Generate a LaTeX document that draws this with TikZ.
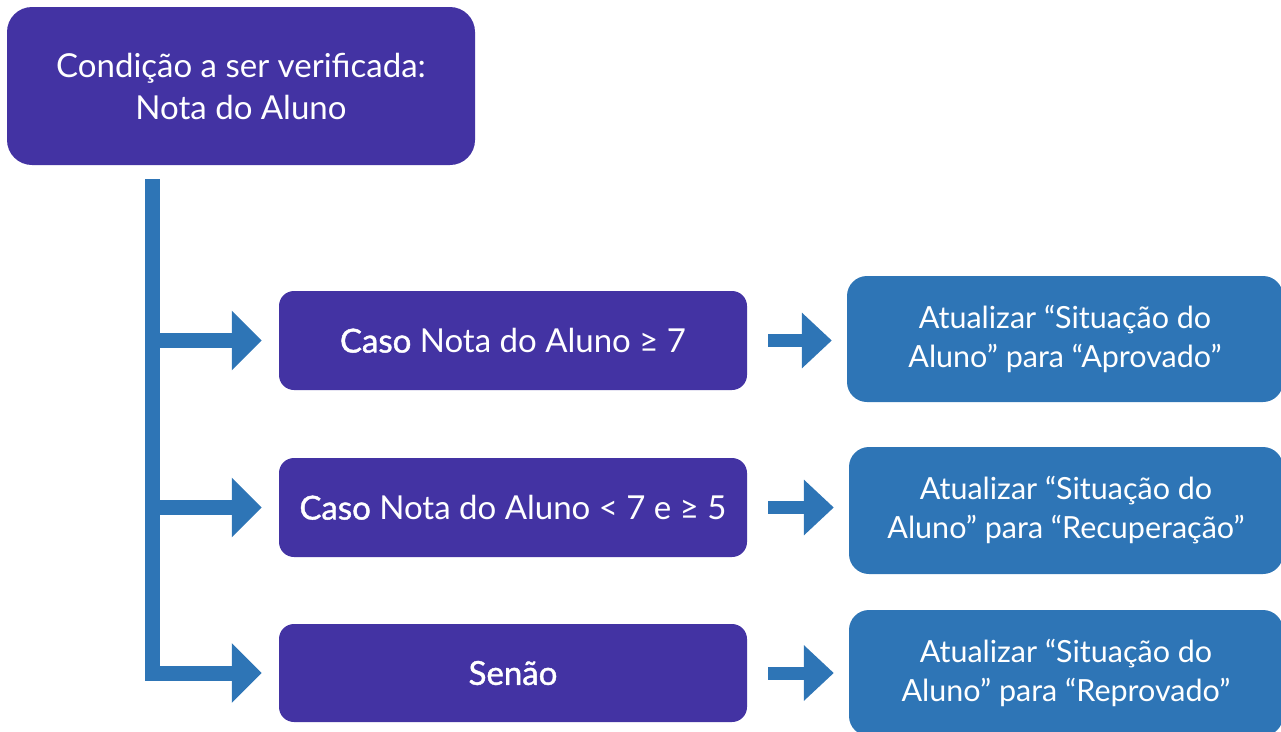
\documentclass[tikz,border=0pt]{standalone}
\usepackage{fontspec}
\setmainfont{Lato}
\newfontfamily\medfont{Lato}[FakeBold=1.3]
\usetikzlibrary{arrows.meta}
\definecolor{purp}{HTML}{4333A3}
\definecolor{blu}{HTML}{2E75B6}
\tikzset{
  pbox/.style={fill=purp, rounded corners=15pt, text=white, align=center, inner sep=0pt, font=\fontsize{33}{42}\selectfont},
  bbox/.style={fill=blu, rounded corners=20pt, text=white, align=center, inner sep=0pt, font=\fontsize{30.5}{39}\selectfont},
  conn/.style={draw=blu, line width=15pt, line join=miter, -{Triangle[length=30pt,width=58pt]}},
  rconn/.style={draw=blu, line width=13pt, -{Triangle[length=30pt,width=54pt]}, shorten <=21pt, shorten >=15pt},
}
\begin{document}
\begin{tikzpicture}[x=1pt,y=-1pt]
\useasboundingbox (0,0) rectangle (1281,731);
\node[pbox, rounded corners=25pt, minimum width=468pt, minimum height=158pt] (top) at (241,86) {Condição a ser verificada:\\Nota do Aluno};
\node[pbox, minimum width=468pt, minimum height=99pt] (b1) at (513,340.5) {{\medfont Caso} Nota do Aluno ≥ 7};
\node[pbox, minimum width=468pt, minimum height=99pt] (b2) at (513,507.5) {{\medfont Caso} Nota do Aluno < 7 e ≥ 5};
\node[pbox, minimum width=468pt, minimum height=98pt] (b3) at (513,673) {{\medfont Senão}};
\node[bbox, minimum width=436pt, minimum height=126pt] (r1) at (1065,339) {Atualizar “Situação do\\Aluno” para “Aprovado”};
\node[bbox, minimum width=434pt, minimum height=127pt] (r2) at (1066,510.5) {Atualizar “Situação do\\Aluno” para “Recuperação”};
\node[bbox, minimum width=434pt, minimum height=126pt] (r3) at (1066,673) {Atualizar “Situação do\\Aluno” para “Reprovado”};
\coordinate (t0) at (152,179);
\draw[conn, shorten >=17pt] (t0) -- (t0 |- b3.west) -- (b3.west);
\draw[conn, shorten >=17pt] (t0 |- b1.west) -- (b1.west);
\draw[conn, shorten >=17pt] (t0 |- b2.west) -- (b2.west);
\draw[rconn] (b1.east) -- (b1.east -| r1.west);
\draw[rconn] (b2.east) -- (b2.east -| r2.west);
\draw[rconn] (b3.east) -- (b3.east -| r3.west);
\end{tikzpicture}
\end{document}
